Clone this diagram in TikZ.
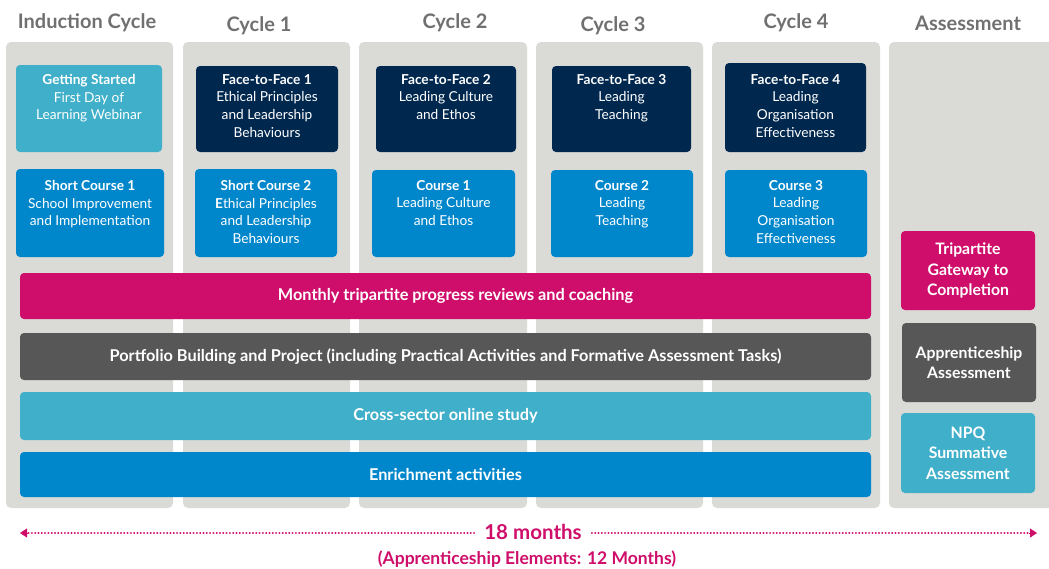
\documentclass[tikz,border=0pt]{standalone}
\usepackage{fontspec}
\setmainfont{Lato}
\usetikzlibrary{arrows.meta}
\definecolor{bggray}{HTML}{DADAD6}
\definecolor{anavy}{HTML}{00284F}
\definecolor{ablue}{HTML}{0087CB}
\definecolor{ateal}{HTML}{40AFC9}
\definecolor{amag}{HTML}{CE0E6A}
\definecolor{adgray}{HTML}{575757}
\definecolor{ahgray}{HTML}{707070}
\newcommand\rbox[6]{\node[#6, anchor=north west, minimum width={(#4-#2)*1pt}, minimum height={(#5-#3)*1pt}] (#1) at (#2,#3) {};}
\begin{document}
\begin{tikzpicture}[x=1pt,y=-1pt,
  colbg/.style={fill=bggray, rounded corners=5pt, inner sep=0pt, outer sep=0pt},
  tile/.style={fill=#1, rounded corners=4pt, inner sep=0pt, outer sep=0pt},
  btext/.style={text=white, align=center, inner sep=0pt, font=\fontsize{13.7}{17.7}\selectfont},
  bartext/.style={text=white, align=center, inner sep=0pt, font=\fontsize{16.3}{18}\selectfont\bfseries},
  atext/.style={text=white, align=center, inner sep=0pt, font=\fontsize{15.8}{20.5}\selectfont\bfseries},
  head/.style={text=ahgray, inner sep=0pt, font=\fontsize{20}{22}\selectfont\bfseries},
  dots/.style={draw=amag, line width=2.2pt, dash pattern=on 0.1pt off 3.2pt, line cap=round},
  tip/.style={-{Triangle[length=7pt,width=9pt]}, amag}
]
\useasboundingbox (0,0) rectangle (1049,568);
% columns
\rbox{c0}{6}{42}{173}{508}{colbg}
\rbox{c1}{183}{42}{350}{508}{colbg}
\rbox{c2}{359}{42}{527}{508}{colbg}
\rbox{c3}{536}{42}{703}{508}{colbg}
\rbox{c4}{712}{42}{880}{508}{colbg}
\rbox{c5}{889}{42}{1060}{508}{colbg}
% headers
\node[head] (h0) at (87,23) {Induction Cycle};
\node[head] (h1) at (259,26) {Cycle 1};
\node[head] (h2) at (455,23) {Cycle 2};
\node[head] (h3) at (613,26) {Cycle 3};
\node[head] (h4) at (796,23) {Cycle 4};
\node[head] (h5) at (968,23) {Assessment};
% top tiles
\rbox{gs}{16}{65}{162}{152}{tile=ateal}
\node[btext, anchor=north] (gs-t) at ([yshift=-9pt]gs.north) {\textbf{Getting Started}\\First Day of\\Learning Webinar};
\rbox{f1}{196}{66}{338}{152}{tile=anavy}
\node[btext, anchor=north] (f1-t) at ([yshift=-8pt]f1.north) {\textbf{Face-to-Face 1}\\Ethical Principles\\and Leadership\\Behaviours};
\rbox{f2}{376}{66}{516}{152}{tile=anavy}
\node[btext, anchor=north] (f2-t) at ([yshift=-8pt]f2.north) {\textbf{Face-to-Face 2}\\Leading Culture\\and Ethos};
\rbox{f3}{552}{66}{691}{152}{tile=anavy}
\node[btext, anchor=north] (f3-t) at ([yshift=-8pt]f3.north) {\textbf{Face-to-Face 3}\\Leading\\Teaching};
\rbox{f4}{725}{63}{866}{152}{tile=anavy}
\node[btext, anchor=north] (f4-t) at ([yshift=-11pt]f4.north) {\textbf{Face-to-Face 4}\\Leading\\Organisation\\Effectiveness};
% course tiles
\rbox{s1}{16}{169}{164}{257}{tile=ablue}
\node[btext, anchor=north] (s1-t) at ([yshift=-11pt]s1.north) {\textbf{Short Course 1}\\School Improvement\\and Implementation};
\rbox{s2}{195}{169}{337}{257}{tile=ablue}
\node[btext, anchor=north] (s2-t) at ([yshift=-11pt]s2.north) {\textbf{Short Course 2}\\\textbf{E}thical Principles\\and Leadership\\Behaviours};
\rbox{k1}{372}{170}{515}{257}{tile=ablue}
\node[btext, anchor=north] (k1-t) at ([yshift=-10pt]k1.north) {\textbf{Course 1}\\Leading Culture\\and Ethos};
\rbox{k2}{551}{170}{693}{257}{tile=ablue}
\node[btext, anchor=north] (k2-t) at ([yshift=-10pt]k2.north) {\textbf{Course 2}\\Leading\\Teaching};
\rbox{k3}{725}{170}{867}{257}{tile=ablue}
\node[btext, anchor=north] (k3-t) at ([yshift=-10pt]k3.north) {\textbf{Course 3}\\Leading\\Organisation\\Effectiveness};
% bars
\rbox{b1}{20}{273}{871}{319}{tile=amag}
\node[bartext] (b1-t) at ([xshift=10pt]b1.center) {Monthly tripartite progress reviews and coaching};
\rbox{b2}{20}{333}{871}{380}{tile=adgray}
\node[bartext] (b2-t) at (b2.center) {Portfolio Building and Project (including Practical Activities and Formative Assessment Tasks)};
\rbox{b3}{20}{392}{871}{440}{tile=ateal}
\node[bartext] (b3-t) at (b3.center) {Cross-sector online study};
\rbox{b4}{20}{452}{871}{497}{tile=ablue}
\node[bartext] (b4-t) at (b4.center) {Enrichment activities};
% assessment tiles
\rbox{a1}{901}{231}{1035}{310}{tile=amag}
\node[atext] (a1-t) at (a1.center) {Tripartite\\Gateway to\\Completion};
\rbox{a2}{902}{323}{1036}{402}{tile=adgray}
\node[atext] (a2-t) at (a2.center) {Apprenticeship\\Assessment};
\rbox{a3}{901}{413}{1035}{493}{tile=ateal}
\node[atext] (a3-t) at (a3.center) {NPQ\\Summative\\Assessment};
% duration
\node[text=amag, inner sep=0pt, font=\fontsize{20.5}{22}\selectfont\bfseries] (m18) at (533,532) {18 months};
\node[text=amag, inner sep=0pt, font=\fontsize{17.5}{18}\selectfont\bfseries] (appr) at (527,559) {(Apprenticeship Elements: 12 Months)};
\coordinate (lend) at (20,533);
\coordinate (rend) at (1037,533);
\draw[dots] ([xshift=-10pt]m18.west |- lend) -- ([xshift=8pt]lend);
\draw[dots] ([xshift=10pt]m18.east |- rend) -- ([xshift=-8pt]rend);
\draw[tip] ([xshift=8pt]lend) -- (lend);
\draw[tip] ([xshift=-8pt]rend) -- (rend);
\end{tikzpicture}
\end{document}
